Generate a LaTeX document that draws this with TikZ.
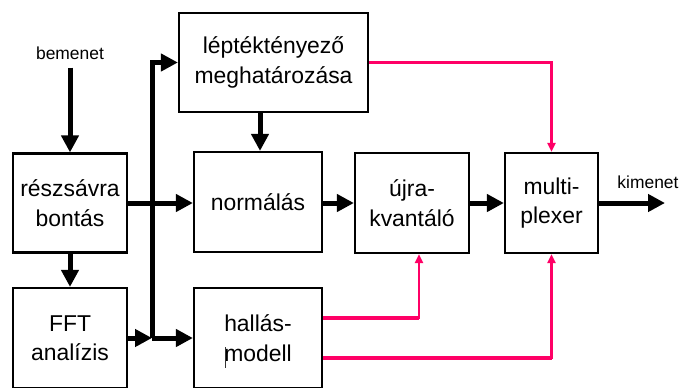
\documentclass[tikz,border=0pt]{standalone}
\usepackage{fontspec}
\setmainfont{Liberation Sans}
\usetikzlibrary{arrows.meta}
\definecolor{sigred}{HTML}{FF0066}
\begin{document}
\begin{tikzpicture}[x=1bp,y=-1bp,
  blockbox/.style={draw, line width=2.2bp, align=center, inner sep=0pt,
    font=\fontsize{23}{29.5}\selectfont},
  lbl/.style={font=\fontsize{17.5}{20}\selectfont, inner sep=0pt},
  flow/.style={line width=5bp, -{Triangle[length=17bp,width=17bp]}},
  ctrl/.style={sigred, line width=2.5bp, -{Triangle[length=9bp,width=8bp]}},
  ctrlthick/.style={sigred, line width=4bp}]
\useasboundingbox (0,0) rectangle (681,387);
\clip (0,0) rectangle (681,387);
\fill[white] (0,0) rectangle (681,387);

% processing blocks
\node[blockbox, minimum width=114bp, minimum height=99bp] (resz) at (70,203) {részsávra\\bontás};
\node[blockbox, minimum width=114bp, minimum height=100bp] (fft) at (70,338) {FFT\\analízis};
\node[blockbox, minimum width=189bp, minimum height=99bp] (lept) at (273.5,62.5) {léptéktényező\\meghatározása};
\node[blockbox, minimum width=128bp, minimum height=100bp] (norm) at (258,202) {normálás};
\node[blockbox, minimum width=128bp, minimum height=100bp] (hall) at (258,338) {hallás-\\modell};
\node[blockbox, minimum width=114bp, minimum height=100bp] (ujra) at (412,203) {újra-\\kvantáló};
\node[blockbox, minimum width=93bp, minimum height=100bp] (mux) at (551.5,203) {multi-\\plexer};

% input / output labels
\node[lbl, inner ysep=8bp] (bem) at (70,53) {bemenet};
\node[lbl] (kim) at (648,182) {kimenet};
\coordinate (kout) at (665,203);
\coordinate (bus) at (152,338);

% signal flow
\draw[flow] (bem.south) -- (resz.north);
\draw[flow] (resz.south) -- (fft.north);
\draw[flow] (resz.east) -- (resz.east -| norm.west);
\draw[flow] (fft.east) -- (bus);
\draw[flow] (bus) -- (hall.west);
\draw[flow, line join=miter] (bus) |- (lept.west);
\draw[flow] ([xshift=2bp]lept.south -| norm.north) -- ([xshift=2bp]norm.north);
\draw[flow] (norm.east |- ujra.west) -- (ujra.west);
\draw[flow] (ujra.east) -- (mux.west);
\draw[flow] (mux.east) -- (kout);

% side information paths
\coordinate (hq) at ([yshift=20bp]hall.east);
\coordinate (hm) at ([yshift=-20bp]hall.east);
\coordinate (qin) at ([xshift=7bp]ujra.south);
\draw[ctrl] (lept.east) -| (mux.north);
\draw[ctrl] (hq) -| (qin);
\draw[ctrl] (hm) -| (mux.south);
\draw[ctrlthick] (hq) -- (hq -| qin);
\draw[ctrlthick] (hm) -- (hm -| mux.south);

% text caret
\draw[line width=1bp, black!80] (225,347) -- (225,368);
\end{tikzpicture}
\end{document}
